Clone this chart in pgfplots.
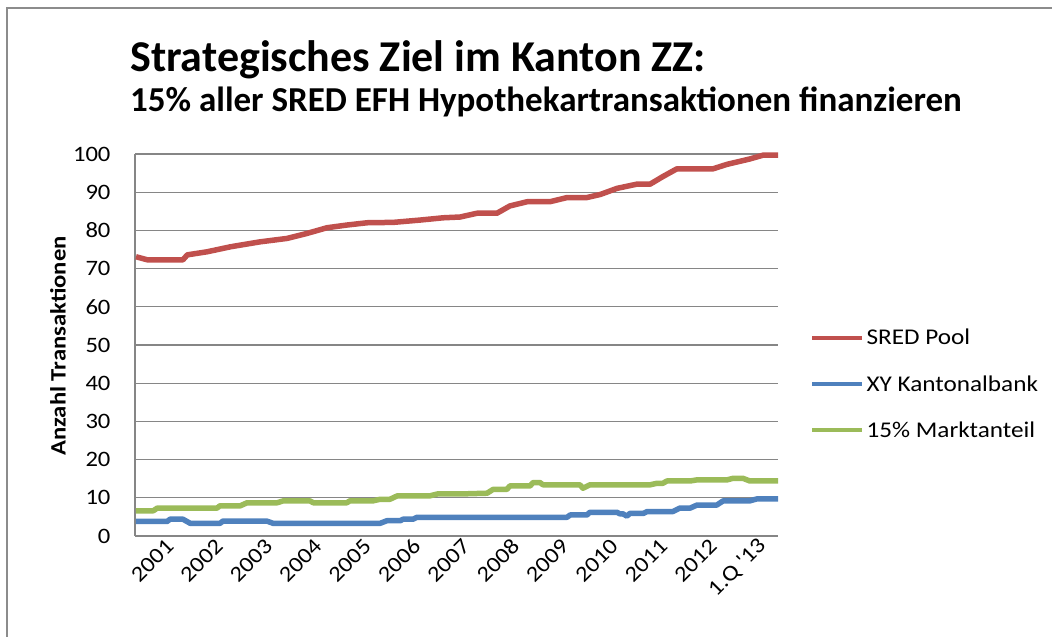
\documentclass[border=0pt]{standalone}
\usepackage{pgfplots}
\pgfplotsset{compat=1.18}
\usepackage{fontspec}
\setmainfont{Carlito}
\newfontfamily\wide[FakeStretch=1.12]{Carlito}
\definecolor{cred}{RGB}{192,80,77}
\definecolor{cblue}{RGB}{79,129,189}
\definecolor{cgreen}{RGB}{155,187,89}
\definecolor{cgrid}{RGB}{134,134,134}
\definecolor{cframe}{RGB}{140,140,140}
\begin{document}
\begin{tikzpicture}
\useasboundingbox (0,0) rectangle (1052bp,637bp);
\draw[cframe, line width=2bp] (7bp,0bp) -- (7bp,629bp) -- (1052bp,629bp);
\node[anchor=base west, inner sep=0] at (130bp,565bp) {\fontsize{44bp}{50bp}\selectfont\bfseries Strategisches Ziel im Kanton ZZ:};
\node[anchor=base west, inner sep=0] at (130bp,525bp) {\fontsize{35bp}{40bp}\selectfont\bfseries 15\% aller SRED EFH Hypothekartransaktionen finanzieren};
\node[rotate=90, inner sep=0] at (58bp,291bp) {\wide\fontsize{22bp}{26bp}\selectfont\bfseries Anzahl Transaktionen};
\begin{axis}[
  at={(135bp,101bp)}, anchor=south west,
  scale only axis, width=643bp, height=382bp,
  xmin=2000.33, xmax=2013.35, ymin=0, ymax=100,
  axis lines*=left,
  axis line style={cgrid, line width=1.3bp},
  ytick={0,10,...,100},
  ymajorgrids, grid style={cgrid, line width=1.3bp},
  major tick length=0pt,
  xtick={2001,2002,2003,2004,2005,2006,2007,2008,2009,2010,2011,2012,2013},
  xticklabels={2001,2002,2003,2004,2005,2006,2007,2008,2009,2010,2011,2012,{1.Q '13}},
  /pgf/number format/assume math mode=true,
  /pgf/number format/1000 sep={},
  yticklabel style={font=\wide\fontsize{22bp}{26bp}\selectfont, xshift=-21bp},
  xticklabel style={font=\wide\fontsize{22bp}{26bp}\selectfont, rotate=45, anchor=east, yshift=-6bp},
  clip=false,
  legend style={draw=none, fill=none, at={(1.045,0.398)}, anchor=west,
    font=\wide\fontsize{22.5bp}{26bp}\selectfont, row sep=25bp, cells={anchor=west}},
  legend image code/.code={\draw[#1, line width=4.5bp] (0bp,0bp) -- (50bp,0bp);},
]
\addplot[cred, line width=5.5bp, line join=round] coordinates {
(2000.35,73.1) (2000.58,72.3) (2001.30,72.3) (2001.39,73.6) (2001.79,74.4)
(2002.26,75.7) (2002.86,77.0) (2003.41,77.9) (2003.81,79.2) (2004.22,80.7)
(2004.62,81.4) (2005.03,82.0) (2005.56,82.1) (2006.10,82.7) (2006.57,83.3)
(2006.91,83.5) (2007.26,84.5) (2007.66,84.5) (2007.92,86.4) (2008.27,87.5)
(2008.73,87.5) (2009.08,88.6) (2009.48,88.6) (2009.75,89.4) (2010.09,91.0)
(2010.49,92.1) (2010.76,92.1) (2011.02,94.1) (2011.30,96.1) (2012.03,96.1)
(2012.32,97.3) (2012.78,98.7) (2013.05,99.7) (2013.35,99.7)
};
\addlegendentry{SRED Pool}
\addplot[cblue, line width=5.5bp, line join=round] coordinates {
(2000.35,3.8) (2000.98,3.8) (2001.04,4.4) (2001.30,4.4) (2001.45,3.3)
(2002.05,3.3) (2002.11,3.9) (2003.00,3.9) (2003.13,3.3) (2005.29,3.3)
(2005.43,4.0) (2005.70,4.0) (2005.76,4.4) (2005.96,4.4) (2006.04,4.9)
(2009.08,4.9) (2009.14,5.5) (2009.48,5.5) (2009.54,6.2) (2010.09,6.2)
(2010.15,5.8) (2010.21,5.8) (2010.29,5.2) (2010.35,5.9) (2010.62,5.9)
(2010.70,6.4) (2011.22,6.4) (2011.36,7.3) (2011.57,7.3) (2011.71,8.1)
(2012.11,8.1) (2012.24,9.2) (2012.78,9.2) (2012.92,9.7) (2013.35,9.7)
};
\addlegendentry{XY Kantonalbank}
\addplot[cgreen, line width=5.5bp, line join=round] coordinates {
(2000.35,6.6) (2000.70,6.6) (2000.78,7.3) (2001.99,7.3) (2002.05,7.9)
(2002.46,7.9) (2002.60,8.7) (2003.21,8.7) (2003.33,9.2) (2003.87,9.2)
(2003.94,8.7) (2004.62,8.7) (2004.68,9.2) (2005.15,9.2) (2005.29,9.6)
(2005.49,9.6) (2005.64,10.5) (2006.30,10.5) (2006.45,11.0) (2006.91,11.0)
(2007.46,11.2) (2007.58,12.2) (2007.86,12.2) (2007.92,13.1) (2008.33,13.1)
(2008.39,14.0) (2008.53,14.0) (2008.59,13.4) (2009.34,13.4) (2009.40,12.5)
(2009.54,13.4) (2010.76,13.4) (2010.90,13.8) (2011.02,13.8) (2011.10,14.4)
(2011.57,14.4) (2011.71,14.7) (2012.32,14.7) (2012.44,15.1) (2012.64,15.1)
(2012.78,14.4) (2013.35,14.4)
};
\addlegendentry{15\% Marktanteil}
\end{axis}
\end{tikzpicture}
\end{document}
